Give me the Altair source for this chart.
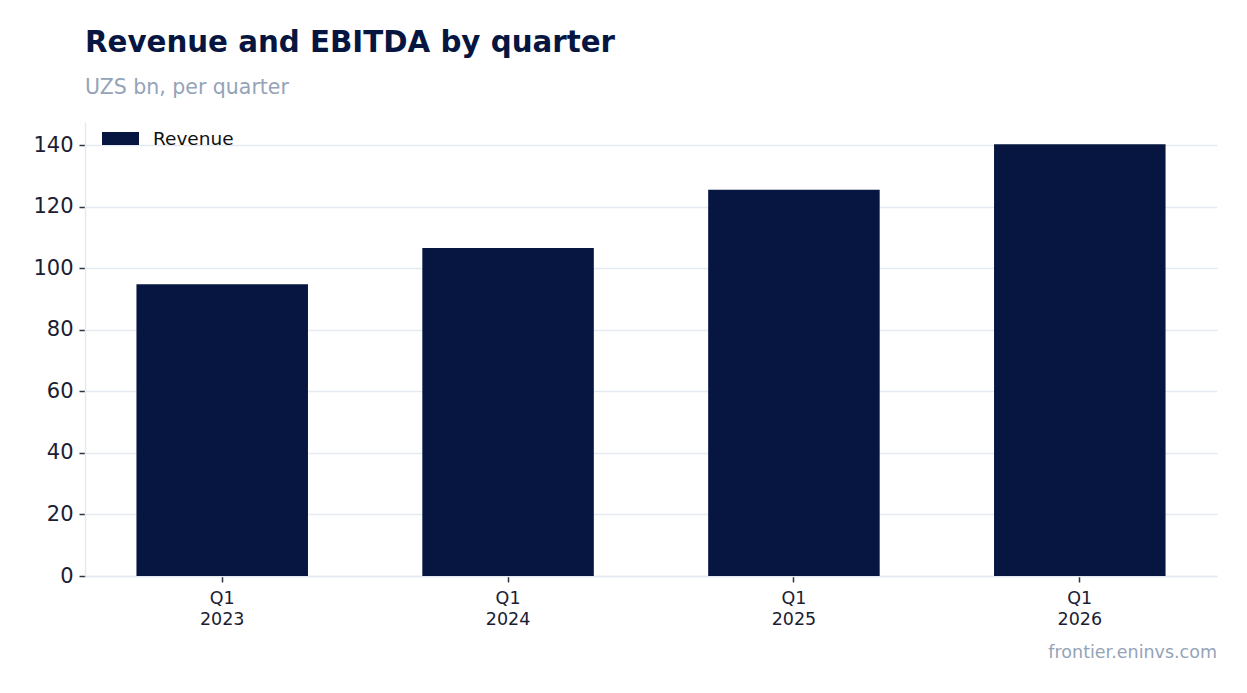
import altair as alt
import pandas as pd

# ---- data ----
quarters = ["Q1 2023", "Q1 2024", "Q1 2025", "Q1 2026"]
revenue = [94.8, 106.6, 125.5, 140.3]
series_name = "Revenue"
title_text = "Revenue and EBITDA by quarter"
subtitle_text = "UZS bn, per quarter"
footer_text = "frontier.eninvs.com"
y_ticks = [0, 20, 40, 60, 80, 100, 120, 140]

NAVY = "#061641"
MUTED = "#94a3b8"
INK = "#1a2033"
GRID = "#e5e9f0"
FONT = "DejaVu Sans"

df = pd.DataFrame({"quarter": quarters, "value": revenue, "series": [series_name] * len(quarters)})
foot = pd.DataFrame({"t": [footer_text]})

bars = alt.Chart(df).mark_bar().encode(
    x=alt.X(
        "quarter:N",
        sort=quarters,
        title=None,
        scale=alt.Scale(paddingInner=0.4, paddingOuter=0.18),
        axis=alt.Axis(
            labelExpr="split(datum.label, ' ')",
            labelAngle=0,
            labelFontSize=17.5,
            labelLineHeight=21,
            labelColor=INK,
            labelPadding=7,
            tickSize=6,
            tickColor="#2e3344",
            tickWidth=1.5,
            domainColor=GRID,
            domainWidth=1.5,
            grid=False,
        ),
    ),
    y=alt.Y(
        "value:Q",
        title=None,
        scale=alt.Scale(domain=[0, 147.5], nice=False),
        axis=alt.Axis(
            values=y_ticks,
            labelFontSize=21,
            labelColor=INK,
            labelPadding=6,
            tickSize=6,
            tickColor="#2e3344",
            tickWidth=1.5,
            domainColor=GRID,
            domainWidth=1.5,
            gridColor=GRID,
            gridWidth=1.5,
        ),
    ),
    color=alt.Color(
        "series:N",
        scale=alt.Scale(domain=[series_name], range=[NAVY]),
        legend=alt.Legend(
            title=None,
            orient="none",
            legendX=17,
            legendY=-2,
            padding=0,
            symbolType="M-1,-0.351H1V0.351H-1Z",
            symbolSize=1369,
            symbolStrokeWidth=0,
            symbolOpacity=1,
            labelFontSize=18.5,
            labelColor="#111111",
            labelOffset=14,
        ),
    ),
)

footer = alt.Chart(foot).mark_text(
    align="right", baseline="alphabetic", fontSize=17.5, color=MUTED, font=FONT
).encode(text="t:N", x=alt.value(1132), y=alt.value(536))

chart = (
    alt.layer(bars, footer)
    .properties(
        width=1132,
        height=454,
        autosize=alt.AutoSizeParams(type="none"),
        padding={"left": 77, "top": 114, "right": 12, "bottom": 90},
        title=alt.TitleParams(
            text=title_text,
            subtitle=subtitle_text,
            anchor="start",
            frame="group",
            font=FONT,
            fontSize=29.3,
            fontWeight="bold",
            color=NAVY,
            subtitleFont=FONT,
            subtitleFontSize=20.5,
            subtitleColor=MUTED,
            subtitlePadding=19,
            offset=22,
        ),
    )
    .configure(font=FONT)
    .configure_view(stroke=None)
    .configure_axis(labelFont=FONT)
    .configure_legend(labelFont=FONT)
)

chart.save("out.html", embed_options={"renderer": "svg", "actions": False})
